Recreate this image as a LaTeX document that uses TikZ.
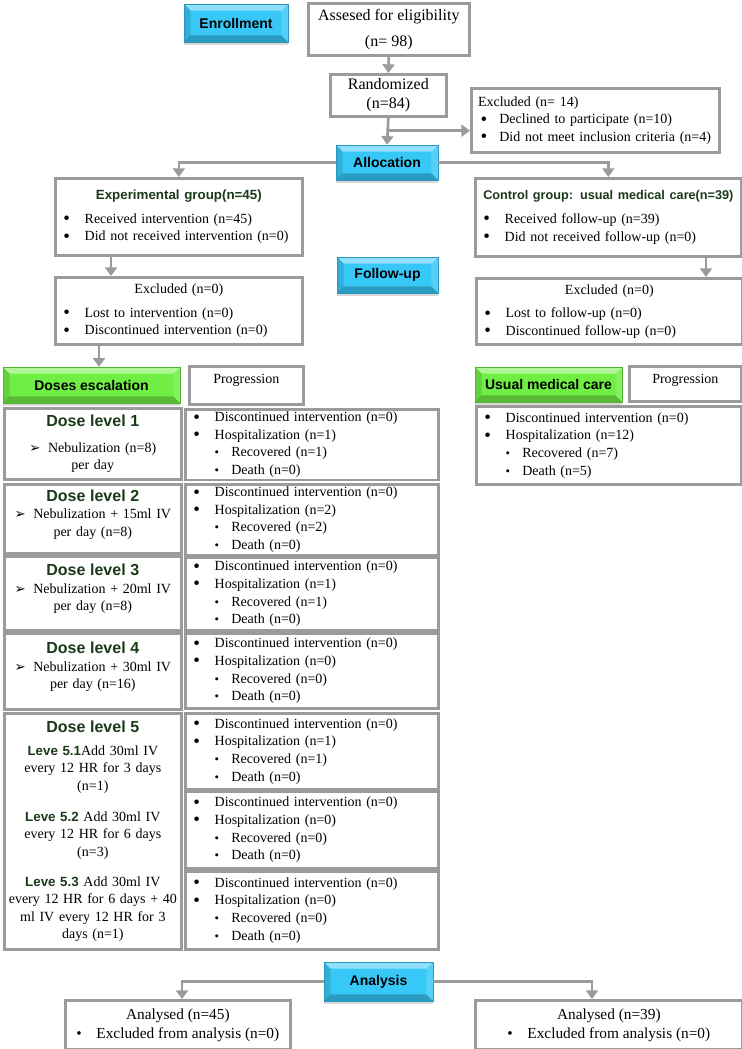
\documentclass[tikz,border=0pt]{standalone}
\usepackage{fontspec}
\setmainfont{Liberation Serif}
\setsansfont{Liberation Sans}
\newfontfamily\dejavu{DejaVu Sans}
\usetikzlibrary{calc,arrows.meta,shadows}

\definecolor{boxgray}{RGB}{155,155,155}
\definecolor{phaseblue}{RGB}{56,200,248}
\definecolor{phasegreen}{RGB}{112,238,68}
\definecolor{headgreen}{RGB}{26,58,26}

\newcommand{\bigdot}{\raisebox{-1pt}{\scalebox{1.35}{\textbullet}}}
\newcommand{\bul}{\makebox[16pt][l]{\bigdot}}
\newcommand{\sbul}{\hspace*{16pt}\makebox[12.5pt][l]{\scalebox{.9}{\textbullet}}}
\newcommand{\arw}{\makebox[14pt][l]{\dejavu\fontsize{10}{10}\selectfont ➢}}
\newcommand{\padb}{\\[-4.5pt]\mbox{}}
\newcommand{\hd}[1]{{\sffamily\bfseries\fontsize{10}{12}\selectfont\color{headgreen}#1}}
\newcommand{\dhd}[1]{{\sffamily\bfseries\fontsize{12}{14}\selectfont\color{headgreen}#1}}

\begin{document}
\begin{tikzpicture}[x=0.75pt,y=-0.75pt,
    every node/.style={font=\fontsize{10.5}{13.2}\selectfont},
    box/.style={draw=boxgray,line width=2pt,fill=white,inner xsep=6pt,inner ysep=2pt,anchor=north west},
    dl/.style={box,align=center,inner xsep=3pt,text width=126.75pt},
    pr/.style={box,align=left,text width=177.75pt},
    arr/.style={draw=boxgray,line width=2pt,-{Triangle[width=9pt,length=6.5pt]}},
    phase/.style={fill=#1,draw=#1!75!black,line width=.3pt,inner sep=0pt,
      font=\sffamily\bfseries\fontsize{10.5}{12}\selectfont,
      drop shadow={shadow xshift=0pt,shadow yshift=-2.5pt,opacity=.3},
      path picture={
        \path (path picture bounding box.north west) coordinate (bnw)
              (path picture bounding box.north east) coordinate (bne)
              (path picture bounding box.south west) coordinate (bsw)
              (path picture bounding box.south east) coordinate (bse);
        \fill[white,opacity=.45] (bnw) -- (bne) -- ([shift={(-5pt,-5pt)}]bne) -- ([shift={(5pt,-5pt)}]bnw) -- cycle;
        \fill[black,opacity=.22] (bsw) -- (bse) -- ([shift={(-5pt,5pt)}]bse) -- ([shift={(5pt,5pt)}]bsw) -- cycle;
        \fill[black,opacity=.12] (bnw) -- ([shift={(5pt,-5pt)}]bnw) -- ([shift={(5pt,5pt)}]bsw) -- (bsw) -- cycle;
        \fill[white,opacity=.15] (bne) -- ([shift={(-5pt,-5pt)}]bne) -- ([shift={(-5pt,5pt)}]bse) -- (bse) -- cycle;
      }}]

    \path[use as bounding box,fill=white] (0,0) rectangle (742,1049);

    % enrollment
    \node[phase=phaseblue,minimum width=78pt,minimum height=28.5pt] (enr) at (236,23) {Enrollment};
    \node[box,align=center,font=\fontsize{12}{14.5}\selectfont,minimum width=120.75pt,minimum height=39pt] (ase) at (307,2)
      {Assesed for eligibility\\[5pt](n= 98)};
    \node[box,align=left,text width=176pt,inner xsep=5pt,minimum height=48pt] (ex14) at (470,87)
      {Excluded (n= 14)\\
       \mbox{\hspace*{2pt}\makebox[14pt][l]{\bigdot}Declined to participate (n=10)}\\
       \mbox{\hspace*{2pt}\makebox[14pt][l]{\bigdot}Did not meet inclusion criteria (n=4)}};
    \node[box,align=center,font=\fontsize{12}{14.5}\selectfont,minimum width=87pt,minimum height=31.5pt] (rnd) at (329,73)
      {Randomized\\(n=84)};

    % allocation
    \node[phase=phaseblue,minimum width=76.5pt,minimum height=26.25pt] (alloc) at (387,162.5) {Allocation};
    \node[box,align=left,text width=173.25pt,minimum height=57.75pt] (exp) at (54,177)
      {\makebox[\linewidth]{\hd{Experimental group(n=45)}}\\[4.5pt]
       \bul Received intervention (n=45)\\ \bul Did not received intervention (n=0)};
    \node[box,align=left,text width=187.5pt,minimum height=58.5pt] (ctl) at (474,177)
      {\makebox[\linewidth]{\sffamily\bfseries\fontsize{9.5}{12}\selectfont\color{headgreen}Control group: usual medical care(n=39)}\\[4.5pt]
       \bul Received follow-up (n=39)\\ \bul Did not received follow-up (n=0)};

    % follow-up
    \node[phase=phaseblue,minimum width=75.75pt,minimum height=27pt] (fol) at (387.5,275) {Follow-up};
    \node[box,align=left,text width=173.25pt,minimum height=50.25pt] (expx) at (54,276)
      {\makebox[\linewidth]{Excluded (n=0)}\\[4.5pt]
       \bul Lost to intervention (n=0)\\ \bul Discontinued intervention (n=0)};
    \node[box,align=left,text width=187.5pt,minimum height=49.5pt] (ctlx) at (475,277)
      {\makebox[\linewidth]{Excluded (n=0)}\\[4.5pt]
       \bul Lost to follow-up (n=0)\\ \bul Discontinued follow-up (n=0)};

    \node[phase=phasegreen,minimum width=132.75pt,minimum height=27pt] (dose) at (91.5,385) {Doses escalation};
    \node[box,minimum width=85.5pt,minimum height=28.5pt,text depth=9.5pt] (prg) at (188,365) {Progression};
    \node[phase=phasegreen,minimum width=110.25pt,minimum height=26.25pt] (umc) at (548.5,384.5) {Usual medical care};
    \node[box,minimum width=84pt,minimum height=26.25pt,text depth=7.5pt] (prgc) at (628,365) {Progression};

    % dose levels
    \node[dl,minimum height=53.25pt] (dl1) at (3,407)
      {\dhd{Dose level 1}\\[6pt] \arw Nebulization (n=8)\\ per day};
    \node[dl,minimum height=51.75pt] (dl2) at (3,483)
      {\dhd{Dose level 2}\\ \arw Nebulization + 15ml IV\\ per day (n=8)\padb};
    \node[dl,minimum height=55.5pt] (dl3) at (3,555)
      {\dhd{Dose level 3}\\ \arw Nebulization + 20ml IV\\ per day (n=8)\padb};
    \node[dl,minimum height=57pt] (dl4) at (3,632)
      {\dhd{Dose level 4}\\ \arw Nebulization + 30ml IV\\ per day (n=16)\padb};
    \node[dl,minimum height=177pt] (dl5) at (3,712)
      {\dhd{Dose level 5}\\[4pt]
       \hd{Leve 5.1}Add 30ml IV\\ every 12 HR for 3 days\\ (n=1)\\[10pt]
       \hd{Leve 5.2} Add 30ml IV\\ every 12 HR for 6 days\\ (n=3)\\[9pt]
       \hd{Leve 5.3} Add 30ml IV\\ \makebox[\linewidth]{every 12 HR for 6 days + 40}\\ ml IV every 12 HR for 3\\ days (n=1)};

    \node[pr,minimum height=51.75pt] (pr1) at (184,408)
      {\bul Discontinued intervention (n=0)\\ \bul Hospitalization (n=1)\\ \sbul Recovered (n=1)\\ \sbul Death (n=0)};
    \node[pr,minimum height=51.75pt] (pr2) at (184,483)
      {\bul Discontinued intervention (n=0)\\ \bul Hospitalization (n=2)\\ \sbul Recovered (n=2)\\ \sbul Death (n=0)};
    \node[pr,minimum height=54.75pt] (pr3) at (184,556)
      {\bul Discontinued intervention (n=0)\\ \bul Hospitalization (n=1)\\ \sbul Recovered (n=1)\\ \sbul Death (n=0)};
    \node[pr,minimum height=56.25pt] (pr4) at (184,632)
      {\bul Discontinued intervention (n=0)\\ \bul Hospitalization (n=0)\\ \sbul Recovered (n=0)\\ \sbul Death (n=0)};
    \node[pr,minimum height=57pt] (pr51) at (184,712)
      {\bul Discontinued intervention (n=0)\\ \bul Hospitalization (n=1)\\ \sbul Recovered (n=1)\\ \sbul Death (n=0)};
    \node[pr,minimum height=57.75pt] (pr52) at (184,790)
      {\bul Discontinued intervention (n=0)\\ \bul Hospitalization (n=0)\\ \sbul Recovered (n=0)\\ \sbul Death (n=0)};
    \node[pr,minimum height=58.5pt] (pr53) at (184,870)
      {\bul Discontinued intervention (n=0)\\ \bul Hospitalization (n=0)\\ \sbul Recovered (n=0)\\ \sbul Death (n=0)};

    \node[box,align=left,text width=186.75pt,minimum height=58.5pt] (cpr) at (475,405)
      {\bul Discontinued intervention (n=0)\\ \bul Hospitalization (n=12)\\ \sbul Recovered (n=7)\\ \sbul Death (n=5)};

    % analysis
    \node[phase=phaseblue,minimum width=81.75pt,minimum height=29.25pt] (ana) at (378.5,981.5) {Analysis};
    \node[box,align=center,font=\fontsize{11.5}{14.25}\selectfont,minimum width=168.75pt,minimum height=36.75pt] (an1) at (64,999)
      {Analysed (n=45)\\ \makebox[15pt][l]{\textbullet}Excluded from analysis (n=0)};
    \node[box,align=center,font=\fontsize{11.5}{14.25}\selectfont,minimum width=200.25pt,minimum height=36.75pt] (an2) at (474,999)
      {Analysed (n=39)\\ \makebox[15pt][l]{\textbullet}Excluded from analysis (n=0)};

    % connectors
    \draw[arr] (ase.south) -- (rnd.north);
    \draw[arr] (rnd.south) -- (alloc.north);
    \coordinate (brk) at ($(rnd.south)+(0,13)$);
    \draw[arr] (brk) -- (brk -| ex14.west);
    \draw[arr] (alloc.west) -| (exp.north);
    \draw[arr] (alloc.east) -| (ctl.north);
    \coordinate (e1) at ($(exp.south west)+(57,0)$);
    \draw[arr] (e1) -- (e1 |- expx.north);
    \coordinate (c1) at ($(ctl.south west)+(232,0)$);
    \draw[arr] (c1) -- (c1 |- ctlx.north);
    \coordinate (e2) at ($(expx.south west)+(45,0)$);
    \draw[arr] (e2) -- (e2 |- dose.north);
    \draw[arr] (ana.west) -| ($(an1.north west)+(118,0)$);
    \draw[arr] (ana.east) -| ($(an2.north west)+(118,0)$);
\end{tikzpicture}
\end{document}
